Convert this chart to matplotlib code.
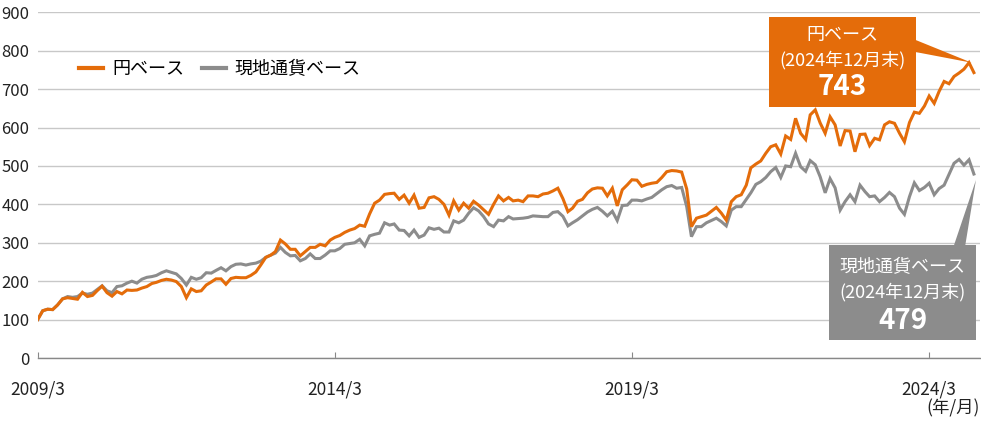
import matplotlib
matplotlib.use("Agg")
import matplotlib.pyplot as plt
from matplotlib.patches import Rectangle, Polygon
import pandas as pd

plt.rcParams['font.family'] = ['Noto Sans CJK JP', 'DejaVu Sans']

# ---- data (monthly, 2009/3 .. 2024/12, index 2009/3 = 100) ----
start_month = "2009-03-01"
yen_base = [
    100, 123, 127, 126, 138, 154, 157, 155, 153, 171,
    160, 163, 175, 187, 170, 161, 173, 167, 177, 176,
    177, 182, 186, 194, 197, 202, 205, 203, 199, 186,
    157, 180, 173, 175, 190, 198, 206, 206, 192, 207,
    210, 209, 209, 215, 224, 242, 262, 268, 277, 307,
    297, 283, 283, 266, 277, 288, 288, 296, 292, 307,
    314, 319, 327, 333, 337, 346, 343, 375, 403, 411,
    426, 428, 429, 413, 424, 403, 424, 390, 392, 417,
    420, 413, 400, 372, 409, 385, 403, 390, 408, 398,
    386, 374, 400, 422, 409, 418, 409, 411, 407, 422,
    422, 420, 427, 429, 435, 442, 415, 381, 390, 408,
    413, 430, 440, 443, 442, 422, 442, 396, 438, 451,
    464, 463, 447, 452, 455, 457, 470, 485, 488, 487,
    484, 440, 342, 364, 368, 372, 382, 392, 377, 359,
    407, 420, 425, 450, 495, 505, 513, 533, 550, 555,
    531, 578, 569, 624, 585, 569, 633, 646, 612, 585,
    628, 607, 552, 592, 591, 537, 582, 583, 553, 572,
    568, 607, 615, 611, 585, 563, 613, 640, 637, 656,
    682, 663, 694, 720, 714, 733, 742, 752, 769, 743,
]
local_base = [
    100, 123, 127, 126, 138, 154, 160, 158, 160, 169,
    166, 169, 178, 188, 175, 170, 186, 188, 195, 200,
    195, 205, 210, 212, 215, 222, 227, 223, 219, 207,
    190, 210, 205, 209, 222, 221, 228, 235, 227, 238,
    244, 245, 242, 245, 247, 252, 262, 268, 273, 288,
    275, 266, 267, 253, 259, 271, 259, 259, 268, 279,
    279, 285, 296, 298, 300, 309, 292, 318, 322, 325,
    352, 346, 349, 333, 332, 318, 333, 314, 320, 339,
    335, 338, 328, 328, 357, 352, 359, 377, 391, 383,
    368, 349, 342, 359, 357, 368, 362, 363, 364, 366,
    370, 369, 368, 368, 379, 381, 369, 344, 352, 360,
    370, 380, 387, 392, 382, 370, 382, 358, 397, 398,
    411, 411, 409, 414, 418, 428, 438, 446, 449, 442,
    444, 394, 316, 342, 342, 352, 358, 364, 355, 344,
    385, 394, 394, 413, 430, 452, 459, 470, 485, 496,
    470, 500, 498, 533, 498, 486, 514, 503, 472, 430,
    467, 443, 385, 407, 425, 407, 450, 433, 420, 422,
    407, 418, 431, 420, 390, 374, 420, 456, 436, 444,
    455, 425, 441, 450, 478, 507, 517, 502, 516, 479,
]
series_names = ["円ベース", "現地通貨ベース"]
tick_dates = ["2009-03-01", "2014-03-01", "2019-03-01", "2024-03-01"]
tick_labels = ["2009/3", "2014/3", "2019/3", "2024/3"]
y_ticks = list(range(0, 901, 100))
box_title_yen = "円ベース"
box_title_local = "現地通貨ベース"
box_date = "(2024年12月末)"
unit_label = "(年/月)"

ORANGE = "#E46C0A"
GRAY = "#8C8C8C"

dates = pd.date_range(start_month, periods=len(yen_base), freq="MS")

fig = plt.figure(figsize=(9.81, 4.33), dpi=100)
ax = fig.add_axes([0.0384, 0.1732, 0.9605, 0.7984])

ax.plot(dates, local_base, color=GRAY, lw=2.2, solid_joinstyle="miter", label=series_names[1], zorder=3)
ax.plot(dates, yen_base, color=ORANGE, lw=2.2, solid_joinstyle="miter", label=series_names[0], zorder=4)

ax.set_ylim(0, 900)
ax.set_xlim(pd.Timestamp(start_month), pd.Timestamp("2025-01-07"))
ax.set_yticks(y_ticks)
ax.set_yticklabels([str(v) for v in y_ticks])
ax.set_xticks(pd.to_datetime(tick_dates))
ax.set_xticklabels(tick_labels)

ax.grid(axis="y", color="#C8C8C8", lw=1.0)
ax.set_axisbelow(True)
for s in ["top", "right", "left"]:
    ax.spines[s].set_visible(False)
ax.spines["bottom"].set_color("#888888")
ax.spines["bottom"].set_linewidth(1.0)
ax.tick_params(axis="y", length=0, pad=6, labelsize=12, labelcolor="#222222")
ax.tick_params(axis="x", direction="in", length=4, color="#888888", pad=16,
               labelsize=12.5, labelcolor="#222222")

ax.text(0.9995, -0.12, unit_label, transform=ax.transAxes, ha="right", va="top",
        fontsize=12.5, color="#222222")

# legend
h = ax.get_legend_handles_labels()
handles = [h[0][1], h[0][0]]
labels = [h[1][1], h[1][0]]
leg = ax.legend(handles, labels, loc="center left", bbox_to_anchor=(0.044, 0.835),
                ncol=2, frameon=False, fontsize=13, handlelength=1.33,
                handletextpad=0.5, columnspacing=0.98, borderpad=0, borderaxespad=0)
for line in leg.get_lines():
    line.set_linewidth(3)

# orange callout
T = ax.transAxes
ax.add_patch(Rectangle((0.7761, 0.7269), 0.9321 - 0.7761, 0.9873 - 0.7269,
                       transform=T, facecolor=ORANGE, edgecolor="none", zorder=6, clip_on=False))
ax.add_patch(Polygon([(0.930, 0.9219), (0.9912, 0.8542), (0.930, 0.8860)], closed=True,
                     transform=T, facecolor=ORANGE, edgecolor="none", zorder=6, clip_on=False))
cx = 0.8541
ax.text(cx, 0.9329, box_title_yen, transform=T, ha="center", va="center", color="white", fontsize=13, zorder=7)
ax.text(cx, 0.862, box_date, transform=T, ha="center", va="center", color="white", fontsize=13, zorder=7)
ax.text(cx, 0.7825, f"{yen_base[-1]}", transform=T, ha="center", va="center", color="white",
        fontsize=20, fontweight="bold", zorder=7)

# gray callout
ax.add_patch(Rectangle((0.8398, 0.0521), 0.9958 - 0.8398, 0.3269 - 0.0521,
                       transform=T, facecolor=GRAY, edgecolor="none", zorder=6, clip_on=False))
ax.add_patch(Polygon([(0.9717, 0.32), (0.9958, 0.515), (0.9841, 0.32)], closed=True,
                     transform=T, facecolor=GRAY, edgecolor="none", zorder=6, clip_on=False))
gx = 0.9178
ax.text(gx, 0.2618, box_title_local, transform=T, ha="center", va="center", color="white", fontsize=13, zorder=7)
ax.text(gx, 0.1918, box_date, transform=T, ha="center", va="center", color="white", fontsize=13, zorder=7)
ax.text(gx, 0.1076, f"{local_base[-1]}", transform=T, ha="center", va="center", color="white",
        fontsize=20, fontweight="bold", zorder=7)

fig.savefig("out.png", dpi=100)
